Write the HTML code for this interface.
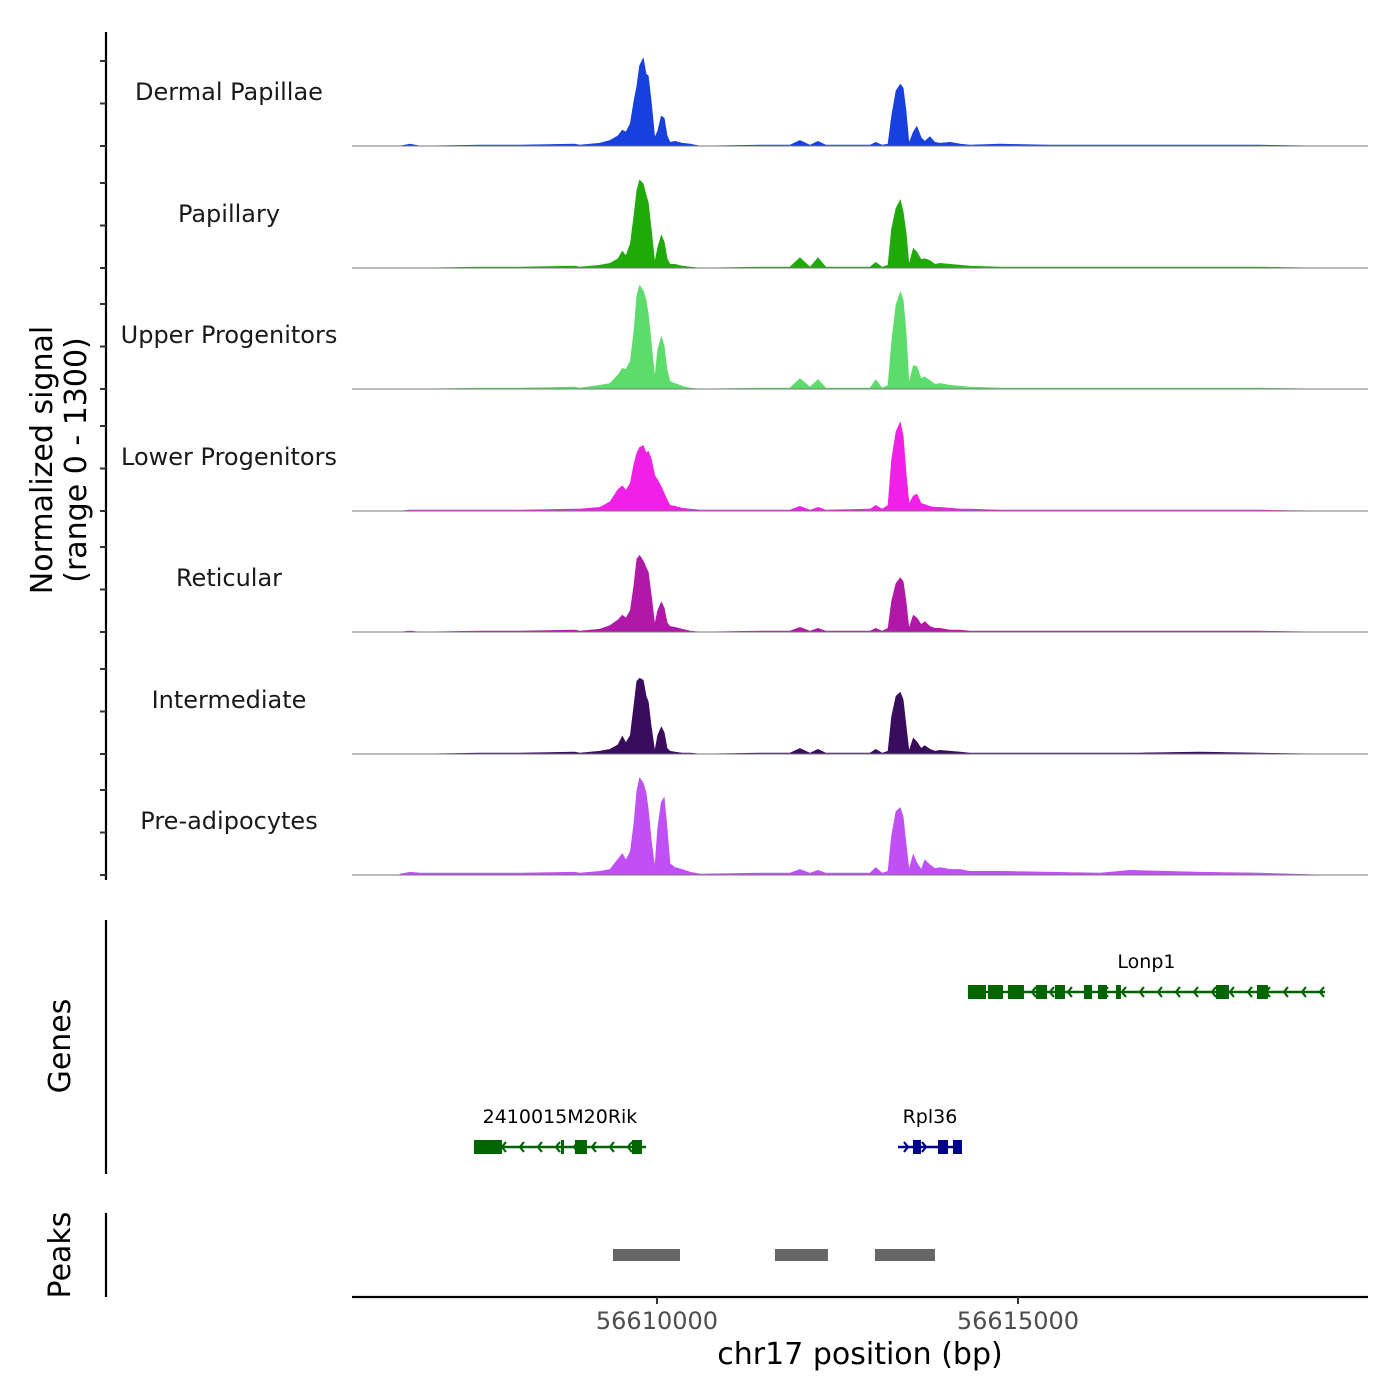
<!DOCTYPE html>
<html><head><meta charset="utf-8">
<style>
html,body{margin:0;padding:0;background:#fff;}
svg{display:block;font-family:"DejaVu Sans","Liberation Sans",sans-serif;}
</style></head>
<body>
<svg id="chart" width="1400" height="1400" viewBox="0 0 1400 1400" xmlns="http://www.w3.org/2000/svg">
  <rect width="1400" height="1400" fill="#fff"/>
  <g id="tracks"></g>
  <line x1="106" y1="32" x2="106" y2="880" stroke="#000" stroke-width="2.2"/>
  <g id="yticks"></g>
  <text transform="translate(52,460) rotate(-90)" text-anchor="middle" font-size="30" fill="#000">Normalized signal</text>
  <text transform="translate(86,460) rotate(-90)" text-anchor="middle" font-size="30" fill="#000">(range 0 - 1300)</text>
  <line x1="106" y1="920" x2="106" y2="1174" stroke="#000" stroke-width="2.2"/>
  <text transform="translate(70,1046) rotate(-90)" text-anchor="middle" font-size="30" fill="#000">Genes</text>
  <g id="genes"></g>
  <line x1="106" y1="1213" x2="106" y2="1297" stroke="#000" stroke-width="2.2"/>
  <text transform="translate(70,1255) rotate(-90)" text-anchor="middle" font-size="30" fill="#000">Peaks</text>
  <g id="peaks"></g>
  <line x1="352" y1="1297" x2="1368" y2="1297" stroke="#000" stroke-width="2.2"/>
  <g id="xticks"></g>
  <text x="860" y="1364" text-anchor="middle" font-size="30" fill="#000">chr17 position (bp)</text>
</svg>
<script>
const positions = [56606440,56606580,56606720,56607550,56608100,56608860,56608930,56609210,56609350,56609460,56609520,56609570,56609630,56609680,56609720,56609760,56609810,56609850,56609880,56609920,56609970,56610010,56610060,56610100,56610140,56610180,56610250,56610350,56610460,56610600,56611430,56611840,56611980,56612120,56612230,56612340,56612950,56613030,56613120,56613200,56613250,56613310,56613370,56613410,56613450,56613490,56613550,56613600,56613660,56613710,56613780,56613850,56613920,56614060,56614200,56614330,56614750,56615440,56616140,56616550,56617520,56618350,56619250];
const trackNames = ["Dermal Papillae","Papillary","Upper Progenitors","Lower Progenitors","Reticular","Intermediate","Pre-adipocytes"];
const trackColors = ["#1740dc","#1faa0a","#5cdc6a","#f020e6","#b018a8","#3a0c5e","#c050f4"];
const dermalPapillae = [0,20,0,10,10,20,10,30,60,110,170,150,240,480,640,860,940,770,750,480,90,160,320,300,110,40,50,30,20,0,10,10,60,10,50,10,10,40,10,20,320,590,660,620,370,30,150,210,90,50,100,40,30,40,20,10,20,10,10,10,10,10,0];
const papillary = [0,0,0,10,10,20,10,30,50,100,180,130,260,560,830,940,900,780,700,420,60,220,350,280,100,40,40,20,10,0,10,10,110,10,110,10,10,60,10,30,420,640,730,600,380,40,210,170,90,100,80,40,50,40,30,20,10,10,10,10,10,10,0];
const upperProgenitors = [0,0,0,10,10,20,10,40,60,150,220,210,300,620,1000,1110,1050,950,800,500,120,420,560,460,200,80,60,30,10,0,10,10,110,20,100,10,10,100,10,40,500,900,1040,950,600,60,250,240,110,130,90,50,60,40,30,20,10,10,10,10,10,10,0];
const lowerProgenitors = [0,10,10,10,10,20,20,40,100,230,270,220,300,500,620,680,700,620,640,560,380,330,260,190,120,60,50,30,20,10,10,10,50,10,40,10,20,60,20,60,550,850,950,800,400,80,160,180,80,70,50,40,40,30,20,20,10,10,10,10,10,10,0];
const reticular = [0,10,0,10,10,20,10,30,70,130,180,150,230,500,780,820,760,690,640,400,80,230,320,260,100,60,50,30,10,0,10,10,50,10,40,10,10,40,10,40,330,520,580,540,320,40,180,150,80,110,60,40,40,20,20,10,10,10,10,10,10,10,0];
const intermediate = [0,0,0,10,10,20,10,30,50,100,190,120,200,520,780,810,790,620,560,300,30,200,290,230,60,30,20,10,10,0,10,10,60,10,50,10,10,50,10,30,400,620,660,580,300,30,170,130,60,90,50,30,40,30,20,10,10,10,10,10,20,10,0];
const preAdipocytes = [10,30,20,20,20,30,20,40,60,170,230,160,250,550,900,1040,980,880,700,380,80,500,780,830,500,120,80,60,30,10,20,20,60,20,50,20,20,80,20,40,420,680,720,620,330,60,220,130,60,160,110,70,80,60,60,40,40,30,20,50,30,20,0];
const trackValues = [dermalPapillae,papillary,upperProgenitors,lowerProgenitors,reticular,intermediate,preAdipocytes];
const xTickValues = [56610000,56615000];
const xTickLabels = ["56610000","56615000"];
const geneNames = ["Lonp1","2410015M20Rik","Rpl36"];
const geneStarts = [56614307,56607465,56613338];
const geneEnds = [56619252,56609848,56614224];
const geneRows = [0,1,1];
const geneColors = ["#006400","#006400","#00008b"];
const geneStrands = ["-","-","+"];
const geneExons = [
  [[56614307,56614557],[56614584,56614792],[56614861,56615083],[56615249,56615402],[56615512,56615651],[56615914,56616025],[56616108,56616233],[56616357,56616426],[56617742,56617922],[56618310,56618462]],
  [[56607465,56607853],[56608670,56608712],[56608864,56609030],[56609654,56609792]],
  [[56613546,56613656],[56613892,56614030],[56614100,56614224]]
];
const peakStarts = [56609391,56611634,56613019];
const peakEnds = [56610319,56612368,56613850];

const NS = "http://www.w3.org/2000/svg";
function mk(tag, attrs, parent){const e=document.createElementNS(NS,tag);for(const k in attrs)e.setAttribute(k,attrs[k]);parent.appendChild(e);return e;}
const X0=352,X1=1368,BP0=56605776,BP1=56619848;
function xScale(bp){return X0+(bp-BP0)/(BP1-BP0)*(X1-X0);}
const baselines=[146,268,389,511,632,754,875];
const trackH=121.5;
function yScale(v,i){return baselines[i]-v/1300*trackH;}

const tg=document.getElementById('tracks');
trackValues.forEach((vals,i)=>{
  const g=mk('g',{},tg);
  
  
  let d='M'+xScale(positions[0]).toFixed(1)+','+baselines[i];
  positions.forEach((p,j)=>{d+=' L'+xScale(p).toFixed(1)+','+yScale(vals[j],i).toFixed(1);});
  d+=' L'+xScale(positions[positions.length-1]).toFixed(1)+','+baselines[i]+' Z';
  const a=mk('path',{d:d,fill:trackColors[i],stroke:trackColors[i],'stroke-width':0.6},g);
  
  
  const bl=mk('line',{x1:X0,x2:X1,y1:baselines[i],y2:baselines[i],stroke:'#777','stroke-width':1},g);
  
  
  const t=mk('text',{x:229,y:baselines[i]-46,'text-anchor':'middle','font-size':24,fill:'#1a1a1a'},g);
  t.textContent=trackNames[i];
  
  
});
const yt=document.getElementById('yticks');
baselines.forEach(b=>{[0,500,1000].forEach(v=>{
  const yy=b-(v/500)*42.5;
  const l=mk('line',{x1:100,x2:106,y1:yy,y2:yy,stroke:'#333','stroke-width':2},yt);
  
  
});});

const gg=document.getElementById('genes');
const rowY=[992,1147];
geneNames.forEach((n,i)=>{
  const g=mk('g',{},gg);
  
  
  const y=rowY[geneRows[i]],c=geneColors[i];
  const xs=xScale(geneStarts[i]),xe=xScale(geneEnds[i]);
  mk('line',{x1:xs,x2:xe,y1:y,y2:y,stroke:c,'stroke-width':2.5},g);
  const step=18;
  for(let x=xs+10;x<xe-4;x+=step){
    const dx=geneStrands[i]==='-'?4:-4;
    mk('polyline',{points:(x+dx)+','+(y-5)+' '+x+','+y+' '+(x+dx)+','+(y+5),fill:'none',stroke:c,'stroke-width':2.2},g);
  }
  geneExons[i].forEach(e=>{
    const r=mk('rect',{x:xScale(e[0]),y:y-7,width:Math.max(2,xScale(e[1])-xScale(e[0])),height:14,fill:c},g);
    
    
  });
  const t=mk('text',{x:(xs+xe)/2,y:y-24,'text-anchor':'middle','font-size':19,fill:'#000'},g);
  t.textContent=n;
  
  
});

const pg=document.getElementById('peaks');
peakStarts.forEach((s,i)=>{
  const r=mk('rect',{x:xScale(s),y:1249,width:xScale(peakEnds[i])-xScale(s),height:12,fill:'#666'},pg);
  
  
});

const xg=document.getElementById('xticks');
xTickValues.forEach((v,i)=>{
  const x=xScale(v);
  const l=mk('line',{x1:x,x2:x,y1:1297,y2:1304,stroke:'#333','stroke-width':2},xg);
  
  
  const t=mk('text',{x:x,y:1329,'text-anchor':'middle','font-size':24,fill:'#4d4d4d'},xg);
  t.textContent=xTickLabels[i];
  
  
});
</script>
</body></html>
